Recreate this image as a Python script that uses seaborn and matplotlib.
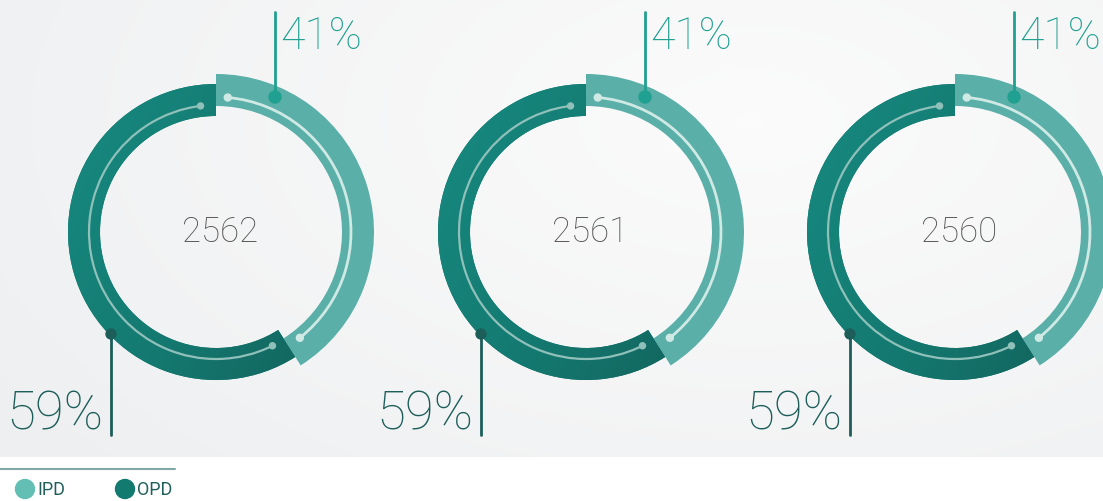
import numpy as np
import matplotlib
matplotlib.use("Agg")
import matplotlib.pyplot as plt
from matplotlib.patches import Arc, Circle
from matplotlib.colors import LinearSegmentedColormap
import seaborn as sns

# data
years = ['2562', '2561', '2560']
ipd_pct = [41, 41, 41]
opd_pct = [59, 59, 59]
legend_labels = ['IPD', 'OPD']

sns.set_theme(style="white")
plt.rcParams['font.family'] = ['Roboto', 'DejaVu Sans']

W, H = 1103, 501
ipd_color = '#5aafa8'
ipd_line = '#1fa090'
opd_line = '#1d5e5a'
opd_cmap = LinearSegmentedColormap.from_list('opd', ['#178a80', '#147a71', '#125f59'])

fig = plt.figure(figsize=(W / 100, H / 100), dpi=100)
ax = fig.add_axes([0, 0, 1, 1])

# background: light grey with a soft lighter area
yy, xx = np.mgrid[0:457, 0:W]
g = np.sqrt(((xx - 750) / 900.0) ** 2 + ((yy - 120) / 500.0) ** 2)
bg = np.clip(g, 0, 1)
c1 = np.array([0.985, 0.985, 0.985])
c2 = np.array([0.935, 0.94, 0.945])
img = c1[None, None, :] * (1 - bg[..., None]) + c2[None, None, :] * bg[..., None]
ax.imshow(img, extent=(0, W, H - 457, H), origin='upper', zorder=0)

centers = [216, 586, 955]
cy = H - 232

for cx, year, ipd, opd in zip(centers, years, ipd_pct, opd_pct):
    # OPD ring (inner, darker), filled with a gradient
    wedges, _ = ax.pie([ipd, opd], colors=['none', '#147a71'], radius=148, center=(cx, cy),
                       startangle=90, counterclock=False,
                       wedgeprops=dict(width=32, linewidth=0))
    gy, gx = np.mgrid[0:1:200j, 0:1:200j]
    grad = np.clip(0.65 * gx + 0.35 * gy, 0, 1)
    im = ax.imshow(grad, cmap=opd_cmap, extent=(cx - 150, cx + 150, cy - 150, cy + 150),
                   origin='upper', zorder=2)
    im.set_clip_path(wedges[1])
    # IPD ring (outer, lighter)
    ax.pie([ipd, opd], colors=[ipd_color, 'none'], radius=158, center=(cx, cy),
           startangle=90, counterclock=False,
           wedgeprops=dict(width=32, linewidth=0))

    ipd_end = 90 - ipd * 3.6
    # thin light arcs inside the rings
    ax.add_patch(Arc((cx, cy), 2 * 135, 2 * 135, theta1=ipd_end + 6, theta2=85,
                     color='#cfe9e5', lw=2, zorder=5))
    ax.add_patch(Arc((cx, cy), 2 * 127, 2 * 127, theta1=97, theta2=360 + ipd_end - 6,
                     color='#8fc0ba', lw=1.6, zorder=5))
    for ang, r, col, s in [(85, 135, '#cfe9e5', 3.5), (ipd_end + 6, 135, '#cfe9e5', 3.5),
                           (97, 127, '#8fc0ba', 3), (ipd_end - 6, 127, '#8fc0ba', 3)]:
        t = np.radians(ang)
        ax.add_patch(Circle((cx + r * np.cos(t), cy + r * np.sin(t)), s, color=col, zorder=6))

    # IPD leader
    lx = cx + 59
    ly = cy + 135
    ax.add_patch(Circle((lx, ly), 6, color=ipd_line, zorder=7))
    ax.plot([lx, lx], [ly, H - 12], color=ipd_line, lw=2, zorder=7)
    ax.text(lx + 5, H - 37, f'{ipd}%', color=ipd_line, fontsize=32, fontweight='light',
            ha='left', va='center', zorder=8)

    # OPD leader
    ox = cx - 105
    oy = cy - 102
    ax.add_patch(Circle((ox, oy), 5, color=opd_line, zorder=7))
    ax.plot([ox, ox], [oy, H - 435], color=opd_line, lw=2, zorder=7)
    ax.text(ox - 8, H - 415, f'{opd}%', color=opd_line, fontsize=38, fontweight='light',
            ha='right', va='center', zorder=8)

    # centre year
    ax.text(cx + 4, cy, year, color='#555555', fontsize=25, fontweight='light',
            ha='center', va='center', zorder=8)

# legend
ax.plot([0, 175], [H - 469, H - 469], color='#7fa9a5', lw=1.5)
for (lx, lab, col) in [(25, legend_labels[0], '#63bfb4'), (125, legend_labels[1], '#137a70')]:
    ax.add_patch(Circle((lx, H - 489), 9.5, color=col, zorder=5))
    ax.text(lx + 12, H - 490, lab, color='#1f5f5c', fontsize=13, ha='left', va='center')

ax.set_xlim(0, W)
ax.set_ylim(0, H)
ax.set_aspect('auto')
ax.axis('off')

fig.savefig('out.png', dpi=100, facecolor='white')
